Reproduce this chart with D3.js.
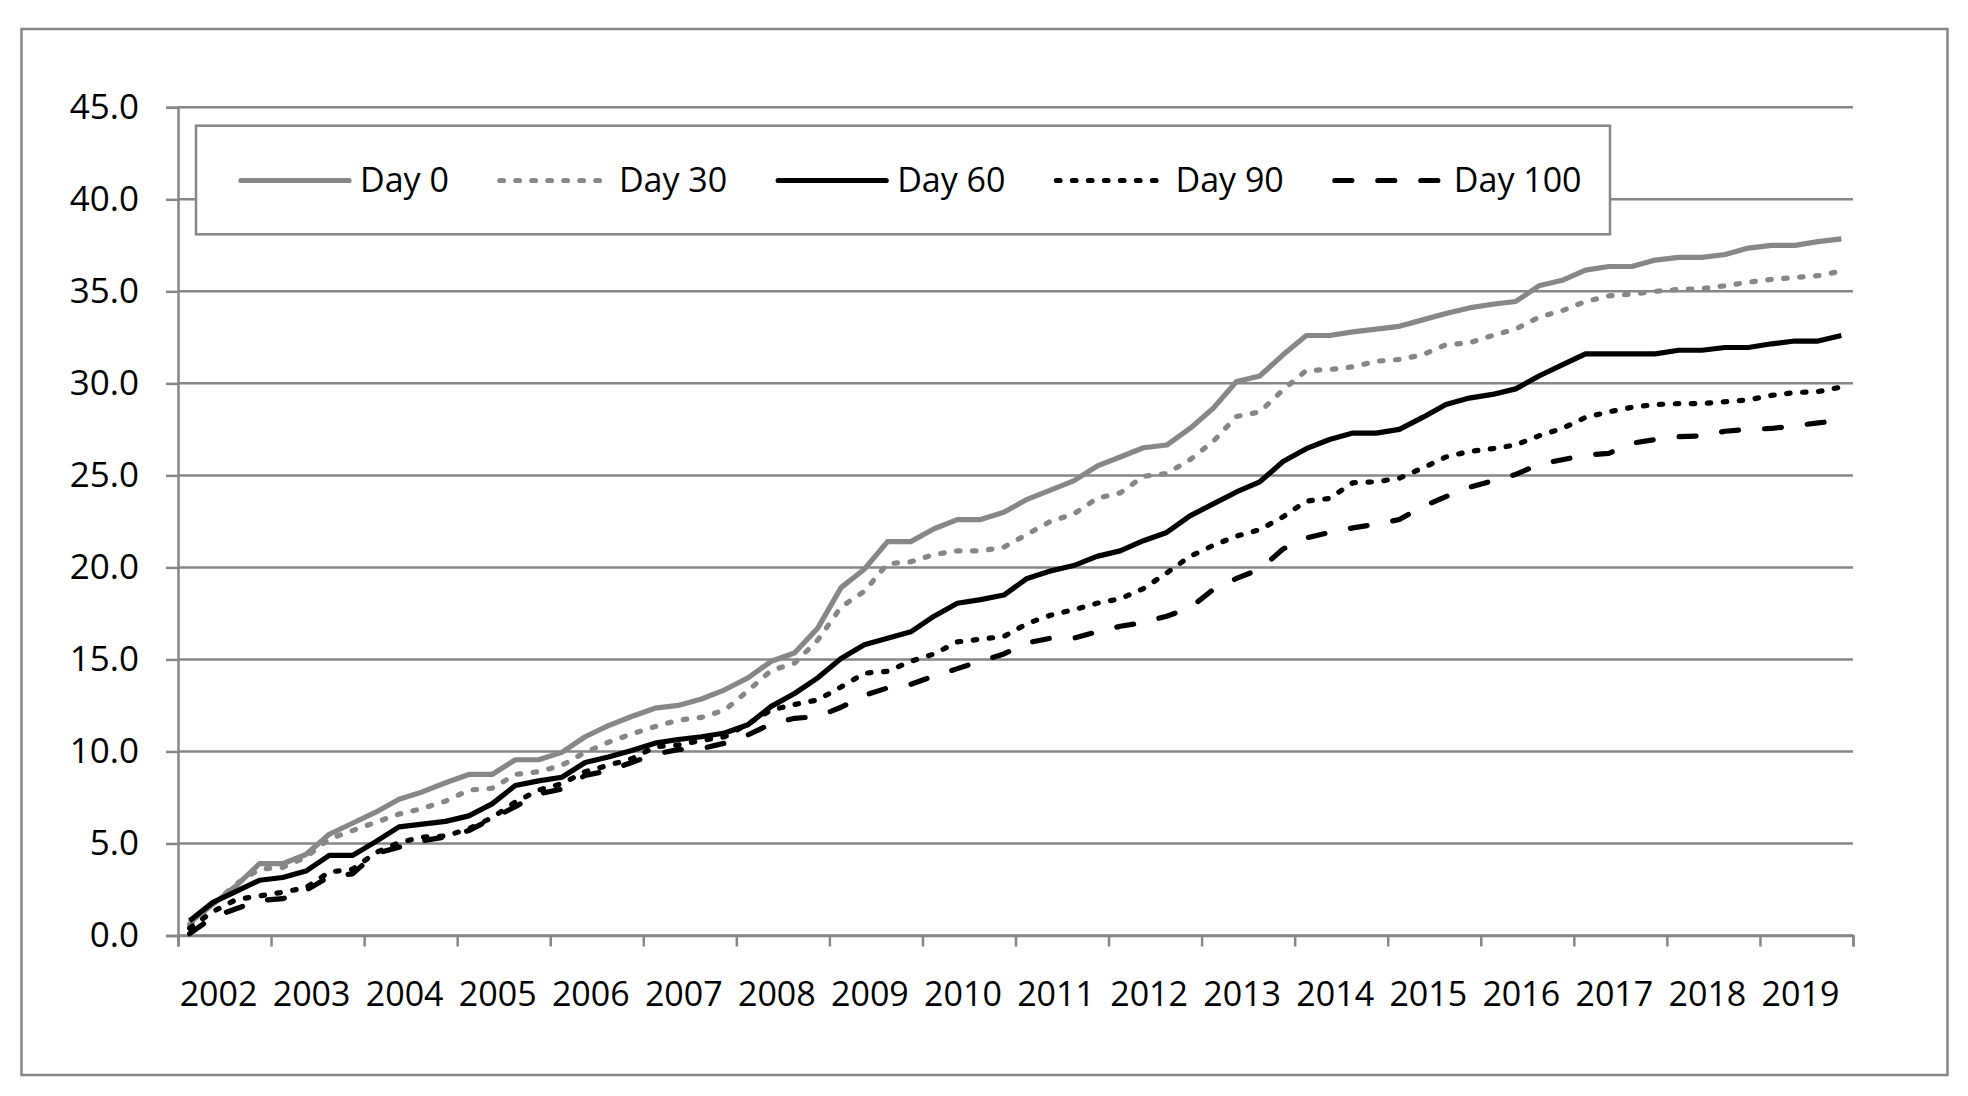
<!DOCTYPE html>
<html>
<head>
<meta charset="utf-8">
<script src="https://cdn.jsdelivr.net/npm/d3@7"></script>
<style>
	body { margin: 0; background: #fff; }
	svg text { font-family: "Open Sans", "DejaVu Sans", sans-serif; fill: #000; }
</style>
</head>
<body>
<div id="chart"></div>
<script>
// Values (quarterly, 2002 - 2019)
const years = ['2002', '2003', '2004', '2005', '2006', '2007', '2008', '2009', '2010', '2011', '2012', '2013', '2014', '2015', '2016', '2017', '2018', '2019'];
const quarters = years.flatMap((y) => ['Q1', 'Q2', 'Q3', 'Q4'].map((q) => y + q));
const yTicks = [0, 5, 10, 15, 20, 25, 30, 35, 40, 45];
const seriesNames = ['Day 0', 'Day 30', 'Day 60', 'Day 90', 'Day 100'];

const day0 = [0.7, 1.7, 2.7, 3.9, 3.9, 4.4, 5.5, 6.1, 6.7, 7.4, 7.8, 8.3, 8.75, 8.75, 9.55, 9.55, 9.95, 10.8, 11.4, 11.9,
	12.35, 12.5, 12.85, 13.35, 14.0, 14.9, 15.35, 16.7, 18.9, 19.9, 21.4, 21.4, 22.1, 22.6, 22.6, 23.0, 23.7, 24.2, 24.7, 25.5,
	26.0, 26.5, 26.65, 27.55, 28.65, 30.1, 30.4, 31.55, 32.6, 32.6, 32.8, 32.95, 33.1, 33.45, 33.8, 34.1, 34.3, 34.45, 35.3, 35.6,
	36.15, 36.35, 36.35, 36.7, 36.85, 36.85, 37.0, 37.35, 37.5, 37.5, 37.7, 37.85];
const day30 = [0.6, 1.7, 2.8, 3.6, 3.7, 4.25, 5.25, 5.7, 6.15, 6.6, 6.9, 7.3, 7.9, 8.0, 8.75, 8.9, 9.25, 9.95, 10.5, 10.95,
	11.35, 11.7, 11.85, 12.25, 13.3, 14.4, 14.8, 16.05, 17.85, 18.7, 20.2, 20.3, 20.7, 20.9, 20.9, 21.1, 21.8, 22.5, 22.9, 23.75,
	24.05, 24.95, 25.1, 25.85, 26.85, 28.2, 28.45, 29.65, 30.7, 30.75, 30.9, 31.2, 31.3, 31.55, 32.1, 32.2, 32.6, 32.95, 33.6, 33.95,
	34.45, 34.75, 34.85, 35.0, 35.1, 35.15, 35.3, 35.5, 35.65, 35.75, 35.85, 36.1];
const day60 = [0.8, 1.8, 2.4, 3.0, 3.15, 3.5, 4.35, 4.35, 5.1, 5.9, 6.05, 6.2, 6.5, 7.15, 8.15, 8.4, 8.6, 9.4, 9.7, 10.05,
	10.45, 10.65, 10.8, 11.0, 11.45, 12.45, 13.15, 14.0, 15.05, 15.8, 16.15, 16.5, 17.35, 18.05, 18.25, 18.5, 19.4, 19.8, 20.1, 20.6,
	20.9, 21.45, 21.9, 22.8, 23.45, 24.1, 24.65, 25.75, 26.45, 26.95, 27.3, 27.3, 27.5, 28.15, 28.85, 29.2, 29.4, 29.7, 30.4, 31.0,
	31.6, 31.6, 31.6, 31.6, 31.8, 31.8, 31.95, 31.95, 32.15, 32.3, 32.3, 32.6];
const day90 = [0.4, 1.3, 1.95, 2.15, 2.35, 2.6, 3.45, 3.6, 4.5, 5.05, 5.35, 5.4, 5.8, 6.4, 7.25, 7.9, 8.25, 8.9, 9.25, 9.6,
	10.25, 10.35, 10.6, 10.8, 11.5, 12.25, 12.55, 12.8, 13.5, 14.25, 14.35, 14.9, 15.3, 15.95, 16.1, 16.25, 16.95, 17.4, 17.7, 18.05,
	18.3, 18.85, 19.7, 20.6, 21.2, 21.7, 22.05, 22.75, 23.6, 23.75, 24.6, 24.65, 24.85, 25.4, 26.0, 26.3, 26.45, 26.65, 27.15, 27.55,
	28.15, 28.45, 28.7, 28.85, 28.9, 28.9, 29.0, 29.1, 29.35, 29.5, 29.55, 29.8];
const day100 = [0.1, 1.0, 1.45, 1.9, 2.0, 2.45, 3.2, 3.35, 4.45, 4.8, 5.15, 5.35, 5.7, 6.35, 7.0, 7.7, 7.95, 8.7, 8.95, 9.4,
	9.85, 10.1, 10.15, 10.45, 10.9, 11.5, 11.8, 11.9, 12.4, 13.05, 13.45, 13.65, 14.1, 14.5, 14.9, 15.3, 15.9, 16.15, 16.15, 16.5,
	16.8, 17.0, 17.35, 17.8, 18.8, 19.4, 19.9, 21.0, 21.6, 21.9, 22.15, 22.35, 22.6, 23.3, 23.85, 24.35, 24.7, 25.05, 25.6, 25.85,
	26.1, 26.2, 26.75, 26.95, 27.1, 27.15, 27.4, 27.5, 27.55, 27.7, 27.85, 28.0];

const w = 1968, h = 1096;
const plot = { left: 178, right: 1853, top: 107.3, bottom: 935.5 };
const gridColor = '#878787';
const lineWidth = 5.2;

// line styles per series
const styles = [
	{ color: '#878787', dash: null },
	{ color: '#878787', dash: '3.5 12.5' },
	{ color: '#000', dash: null },
	{ color: '#000', dash: '3.5 12.5' },
	{ color: '#000', dash: '17 26' }
];
const series = [day0, day30, day60, day90, day100].map((values, i) => ({ name: seriesNames[i], values: values, style: styles[i] }));

const svg = d3.select('#chart')
	.append('svg')
	.attr('width', w)
	.attr('height', h);

svg.append('rect')
	.attr('width', w).attr('height', h)
	.attr('fill', '#fff');

// outer frame
svg.append('rect')
	.attr('x', 21.5).attr('y', 29)
	.attr('width', 1926).attr('height', 1046)
	.attr('fill', 'none')
	.attr('stroke', gridColor)
	.attr('stroke-width', 2.5);

// Scales
const xScale = d3.scalePoint()
	.domain(quarters)
	.range([plot.left, plot.right])
	.padding(0.5);

const xYear = d3.scaleBand()
	.domain(years)
	.range([plot.left, plot.right]);

const xTick = d3.scaleLinear()
	.domain([0, years.length])
	.range([plot.left, plot.right]);

const yScale = d3.scaleLinear()
	.domain([0, 45])
	.range([plot.bottom, plot.top]);

// gridlines
svg.append('g')
	.selectAll('line')
	.data(yTicks)
	.enter()
	.append('line')
	.attr('x1', plot.left)
	.attr('x2', plot.right)
	.attr('y1', (d) => yScale(d))
	.attr('y2', (d) => yScale(d))
	.attr('stroke', gridColor)
	.attr('stroke-width', 2.5);

// y axis
const yAxis = svg.append('g')
	.attr('transform', 'translate(' + plot.left + ',0)')
	.call(d3.axisLeft(yScale).tickValues(yTicks).tickFormat(d3.format('.1f')).tickSize(12).tickPadding(27));
yAxis.selectAll('text').style('font-size', '35px');

// x axis: tick marks at year boundaries, labels in the middle of each year
svg.append('g')
	.attr('transform', 'translate(0,' + plot.bottom + ')')
	.call(d3.axisBottom(xTick).ticks(years.length).tickFormat('').tickSize(11));

const xAxisLabels = svg.append('g')
	.attr('transform', 'translate(0,' + plot.bottom + ')')
	.call(d3.axisBottom(xYear).tickSize(0).tickPadding(46));
xAxisLabels.selectAll('text').style('font-size', '34px').attr('dx', -6);
xAxisLabels.select('.domain').remove();

svg.selectAll('.domain, .tick line')
	.attr('stroke', gridColor)
	.attr('stroke-width', 2.5);

// lines
const line = d3.line()
	.x((d, i) => xScale(quarters[i]))
	.y((d) => yScale(d));

svg.append('g')
	.selectAll('path')
	.data(series)
	.enter()
	.append('path')
	.attr('d', (d) => line(d.values))
	.attr('fill', 'none')
	.attr('stroke', (d) => d.style.color)
	.attr('stroke-width', lineWidth)
	.attr('stroke-linejoin', 'round')
	.attr('stroke-linecap', (d) => d.style.dash ? 'round' : 'butt')
	.attr('stroke-dasharray', (d) => d.style.dash);

// legend
svg.append('rect')
	.attr('x', 196).attr('y', 125.7)
	.attr('width', 1414).attr('height', 108.6)
	.attr('fill', '#fff')
	.attr('stroke', gridColor)
	.attr('stroke-width', 2.5);

let lx = 241;
const ly = 180.5;
series.forEach((s) => {
	svg.append('line')
		.attr('x1', lx).attr('x2', lx + 108)
		.attr('y1', ly).attr('y2', ly)
		.attr('stroke', s.style.color)
		.attr('stroke-width', lineWidth)
		.attr('stroke-linecap', 'round')
		.attr('stroke-dasharray', s.style.dash);
	const t = svg.append('text')
		.attr('x', lx + 119)
		.attr('y', ly)
		.attr('dy', '0.35em')
		.style('font-size', '34px')
		.text(s.name);
	lx = lx + 119 + t.node().getComputedTextLength() + 51;
});
</script>
</body>
</html>
